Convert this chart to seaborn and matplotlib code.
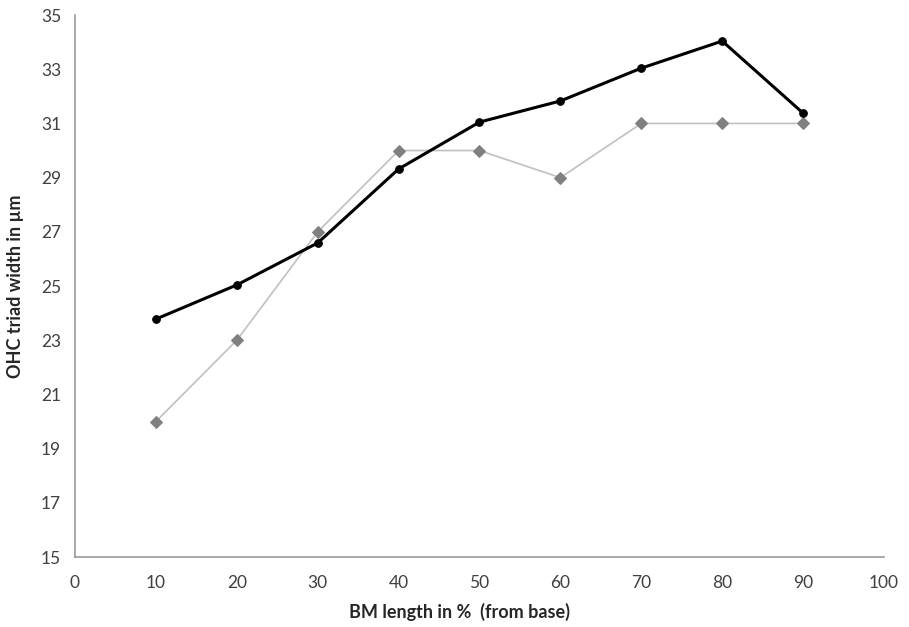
import seaborn as sns
import matplotlib.pyplot as plt
import pandas as pd

bm_length = [10, 20, 30, 40, 50, 60, 70, 80, 90]
width_black = [23.78, 25.04, 26.59, 29.32, 31.05, 31.83, 33.04, 34.04, 31.38]
width_gray = [20, 23, 27, 30, 30, 29, 31, 31, 31]

sns.set_style("white")
plt.rcParams['font.family'] = ['Lato', 'DejaVu Sans']

df = pd.DataFrame({"x": bm_length, "black": width_black, "gray": width_gray})

fig = plt.figure(figsize=(9.09, 6.27), dpi=100)
ax = fig.add_axes([0.0825, 0.1116, 0.89, 0.8644])

sns.lineplot(data=df, x="x", y="gray", ax=ax, color="#c0c0c0", linewidth=1.2,
             marker="D", markersize=6, markerfacecolor="#808080",
             markeredgecolor="#808080")
sns.lineplot(data=df, x="x", y="black", ax=ax, color="black", linewidth=2.2,
             marker="o", markersize=5.5, markerfacecolor="black",
             markeredgecolor="black")

ax.set_xlim(0, 100)
ax.set_ylim(15, 35)
ax.set_xticks(range(0, 101, 10))
ax.set_yticks(range(15, 36, 2))
ax.tick_params(axis="x", length=0, labelsize=12.5, colors="#404040", pad=13)
ax.tick_params(axis="y", length=0, labelsize=12.5, colors="#404040", pad=10)

for s in ["top", "right"]:
    ax.spines[s].set_visible(False)
for s in ["left", "bottom"]:
    ax.spines[s].set_color("#999999")
    ax.spines[s].set_linewidth(1.2)

ax.set_xlabel("BM length in %  (from base)", fontsize=13, fontweight="bold")
ax.set_ylabel("OHC triad width in µm", fontsize=13, fontweight="bold", labelpad=12)
ax.xaxis.set_label_coords(0.475, -0.084)

fig.savefig("out.png", dpi=100, facecolor="white")
